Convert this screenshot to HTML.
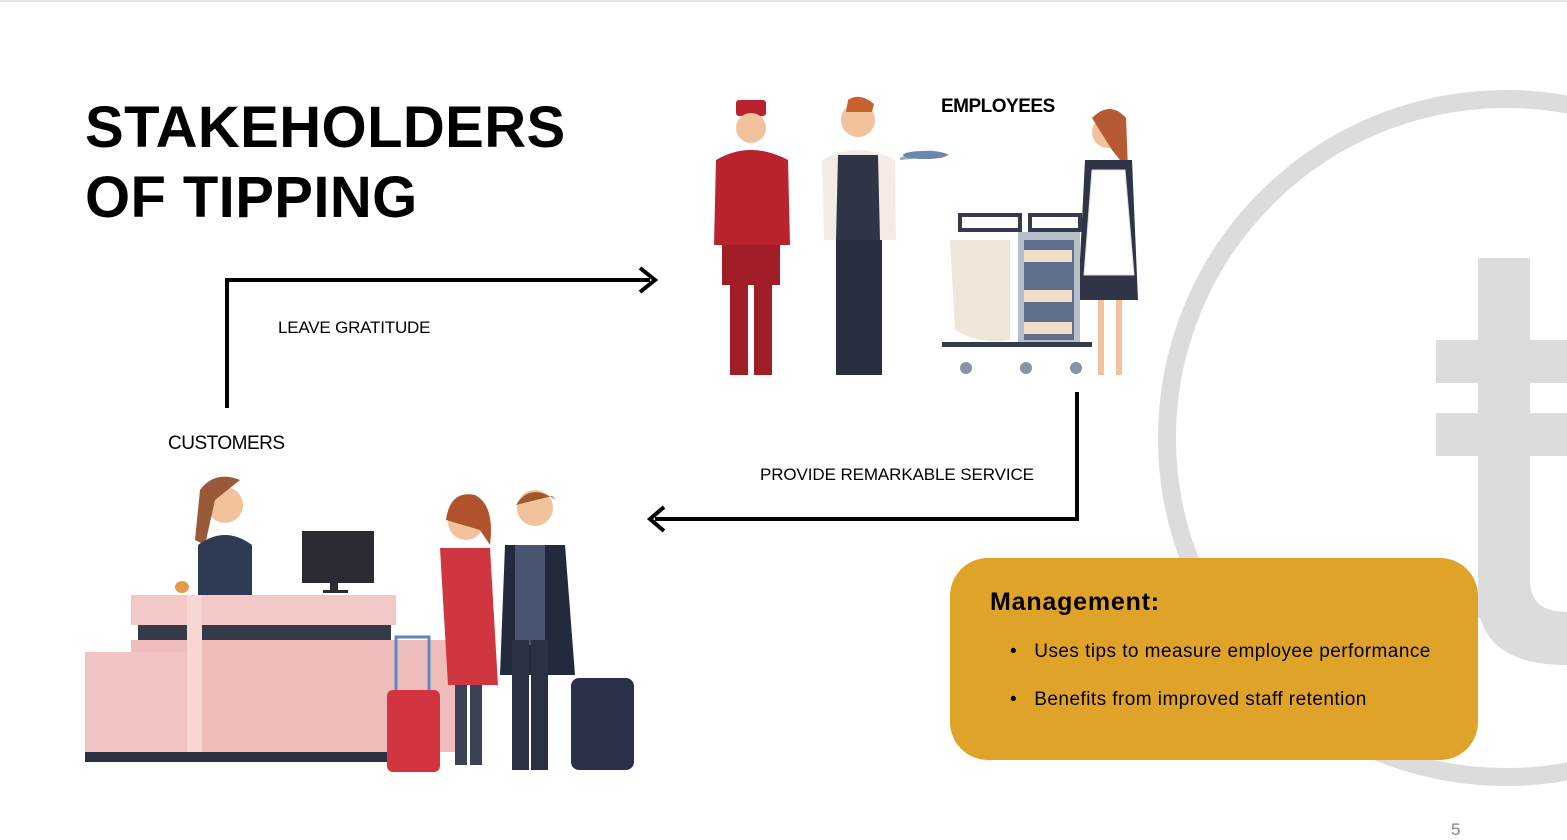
<!DOCTYPE html>
<html><head><meta charset="utf-8"><style>
html,body{margin:0;padding:0;background:#fff}
body{width:1567px;height:836px;position:relative;overflow:hidden;font-family:"Liberation Sans",Arial,sans-serif}
.t{position:absolute;color:#000;white-space:nowrap}
</style></head><body>
<div style="position:absolute;left:0;top:0;width:1567px;height:2px;background:#e6e6e6"></div>
<svg width="1567" height="836" style="position:absolute;left:0;top:0">
<circle cx="1506" cy="438" r="339" fill="none" stroke="#dcdcdc" stroke-width="18"/>
<rect x="1478" y="258" width="52" height="360" fill="#dcdcdc"/>
<path d="M1478 600 Q1480 665 1567 665 L1567 612 Q1530 612 1530 580 Z" fill="#dcdcdc"/>
<rect x="1436" y="340" width="131" height="43" fill="#dcdcdc"/>
<rect x="1436" y="413" width="131" height="43" fill="#dcdcdc"/>
<path d="M227 408 L227 280 L650 280" fill="none" stroke="#000" stroke-width="4"/>
<path d="M640 268 L655 280 L640 292" fill="none" stroke="#000" stroke-width="4"/>
<path d="M1077 392 L1077 519 L655 519" fill="none" stroke="#000" stroke-width="4"/>
<path d="M664 507 L650 519 L664 531" fill="none" stroke="#000" stroke-width="4"/>
<rect x="950" y="558" width="528" height="202" rx="38" fill="#e0a32a"/>
<g>
<rect x="736" y="100" width="30" height="16" rx="3" fill="#b8232e"/>
<circle cx="751" cy="128" r="15" fill="#f2c29c"/>
<path d="M716 160 Q750 140 788 160 L790 245 L714 245 Z" fill="#b8232e"/>
<rect x="722" y="245" width="58" height="40" fill="#a01e28"/>
<rect x="730" y="285" width="18" height="90" fill="#a01e28"/>
<rect x="754" y="285" width="18" height="90" fill="#a01e28"/>
<circle cx="858" cy="120" r="17" fill="#f2c29c"/>
<path d="M848 100 Q860 92 874 104 L872 112 L846 112 Z" fill="#c8622e"/>
<path d="M822 160 Q858 140 895 160 L896 240 L824 240 Z" fill="#f4ece4"/>
<path d="M838 155 L878 155 L880 240 L836 240 Z" fill="#2f3446"/>
<rect x="836" y="240" width="46" height="135" fill="#2a2f40"/>
<path d="M900 158 Q925 145 950 155 L900 160 Z" fill="#8fa6c8"/>
<ellipse cx="925" cy="155" rx="22" ry="4" fill="#6b85ad"/>
<circle cx="1108" cy="132" r="16" fill="#f2c29c"/>
<path d="M1092 118 Q1110 100 1126 118 L1128 170 L1112 150 Z" fill="#b55a32"/>
<path d="M1085 160 L1132 160 L1138 300 L1078 300 Z" fill="#2f3446"/>
<path d="M1092 170 L1125 170 L1134 275 L1084 275 Z" fill="#fff" stroke="#ddd"/>
<rect x="1098" y="300" width="6" height="75" fill="#f2c29c"/>
<rect x="1116" y="300" width="6" height="75" fill="#f2c29c"/>
<rect x="960" y="215" width="60" height="15" fill="none" stroke="#333c4e" stroke-width="4"/>
<rect x="1030" y="215" width="50" height="15" fill="none" stroke="#333c4e" stroke-width="4"/>
<path d="M950 240 L1010 240 L1010 340 Q980 345 955 330 Z" fill="#efe6da"/>
<rect x="1018" y="232" width="62" height="115" fill="#b9bfc9"/>
<rect x="1024" y="240" width="50" height="100" fill="#5f6f8c"/>
<rect x="1024" y="250" width="48" height="12" fill="#f2ddc8"/>
<rect x="1024" y="290" width="48" height="12" fill="#f2ddc8"/>
<rect x="1024" y="322" width="48" height="12" fill="#f2ddc8"/>
<rect x="942" y="342" width="150" height="5" fill="#333c4e"/>
<circle cx="966" cy="368" r="6" fill="#8a93a3"/><circle cx="1026" cy="368" r="6" fill="#8a93a3"/><circle cx="1076" cy="368" r="6" fill="#8a93a3"/>
</g>
<g>
<circle cx="225" cy="505" r="18" fill="#f2c29c"/>
<path d="M200 490 Q215 470 240 480 L215 500 L205 545 L195 540 Z" fill="#9a5a3a"/>
<path d="M198 545 Q225 525 252 545 L252 595 L198 595 Z" fill="#2f3a55"/>
<rect x="302" y="531" width="72" height="52" fill="#2b2c33"/>
<rect x="330" y="583" width="8" height="8" fill="#2b2c33"/>
<rect x="323" y="590" width="25" height="3" fill="#2b2c33"/>
<ellipse cx="182" cy="587" rx="7" ry="6" fill="#e39a4a"/>
<rect x="131" y="595" width="265" height="30" fill="#f3c9c7"/>
<rect x="138" y="625" width="253" height="15" fill="#333a48"/>
<rect x="131" y="640" width="325" height="112" fill="#efbcbc"/>
<rect x="85" y="652" width="102" height="100" fill="#f1c3c3"/>
<rect x="187" y="595" width="15" height="157" fill="#f8d6d4"/>
<rect x="85" y="752" width="310" height="10" fill="#2b3140"/>
<circle cx="466" cy="522" r="18" fill="#f2c29c"/>
<path d="M446 520 Q450 490 475 495 Q495 505 490 545 L480 530 Z" fill="#b0522c"/>
<path d="M440 548 L490 548 L498 685 L448 685 Z" fill="#cf3640"/>
<rect x="455" y="685" width="12" height="80" fill="#3a4356"/>
<rect x="470" y="685" width="12" height="80" fill="#3a4356"/>
<rect x="396" y="637" width="33" height="55" fill="none" stroke="#5a8ac4" stroke-width="3"/>
<rect x="387" y="690" width="53" height="82" rx="6" fill="#d33540"/>
<circle cx="535" cy="508" r="18" fill="#f2c29c"/>
<path d="M516 505 Q530 482 556 500 L552 496 Z" fill="#a0582e"/>
<path d="M505 545 L565 545 L575 675 L500 675 Z" fill="#232a3e"/>
<rect x="515" y="545" width="30" height="100" fill="#4a5572"/>
<rect x="512" y="640" width="17" height="130" fill="#2a3144"/>
<rect x="531" y="640" width="17" height="130" fill="#2a3144"/>
<rect x="571" y="678" width="63" height="92" rx="8" fill="#2a3048"/>
</g>
</svg>
<div class="t" style="left:85px;top:93px;font-size:58px;font-weight:bold;line-height:70px;letter-spacing:0.4px">STAKEHOLDERS<br>OF TIPPING</div>
<div class="t" style="left:941px;top:96px;font-size:19px;font-weight:bold;letter-spacing:-0.5px">EMPLOYEES</div>
<div class="t" style="left:278px;top:318px;font-size:17px;letter-spacing:-0.2px">LEAVE GRATITUDE</div>
<div class="t" style="left:168px;top:433px;font-size:19px;letter-spacing:-0.5px">CUSTOMERS</div>
<div class="t" style="left:760px;top:465px;font-size:17px;letter-spacing:-0.1px">PROVIDE REMARKABLE SERVICE</div>
<div class="t" style="left:990px;top:588px;font-size:25px;font-weight:bold;letter-spacing:0.8px">Management:</div>
<div class="t" style="left:1010px;top:641px;font-size:19px;letter-spacing:0.45px">•&nbsp;&nbsp;&nbsp;Uses tips to measure employee performance</div>
<div class="t" style="left:1010px;top:689px;font-size:19px;letter-spacing:0.45px">•&nbsp;&nbsp;&nbsp;Benefits from improved staff retention</div>
<div class="t" style="left:1451px;top:820px;font-size:17px;color:#888">5</div>
</body></html>
